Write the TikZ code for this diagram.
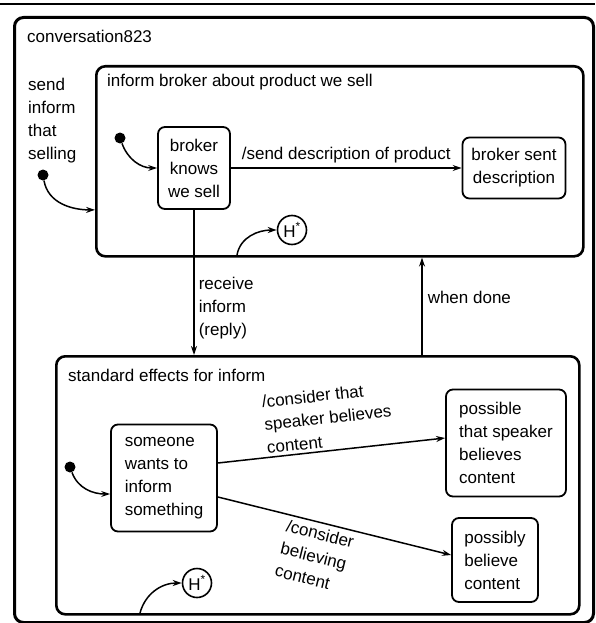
\documentclass[tikz,border=0pt]{standalone}
\usepackage{fontspec}
\setmainfont{Liberation Sans}
\usetikzlibrary{positioning, arrows.meta, calc}

\begin{document}
\begin{tikzpicture}[
    x=1pt, y=-1pt,
    every node/.style={font=\fontsize{17}{23}\selectfont},
    box/.style={draw, line width=2.6pt, rounded corners=9pt, anchor=north west, inner sep=0pt},
    st/.style={draw, line width=1.8pt, rounded corners=7pt, align=left, inner sep=0pt},
    init/.style={circle, fill, inner sep=0pt, minimum size=11pt},
    hist/.style={circle, draw, line width=1.6pt, inner sep=0pt, minimum size=29pt},
    tr/.style={-{Stealth[length=9pt,width=6pt]}, line width=1.5pt},
    lbl/.style={align=left, inner sep=0pt}
  ]
  \useasboundingbox (0,0) rectangle (595,623);
  \draw[line width=1.5pt] (0,4) -- (595,4);

  % containers
  \node[box, line width=3pt, minimum width=579pt, minimum height=605pt] (conv) at (13,16) {};
  \node[box, minimum width=487pt, minimum height=190pt] (ib) at (95,65) {};
  \node[box, minimum width=523pt, minimum height=258pt] (se) at (55,355) {};
  \node[lbl, anchor=west] (convt) at (27,36) {conversation823};
  \node[lbl, anchor=north west] (sendt) at (28,78) {send\\inform\\that\\selling};
  \node[lbl, anchor=west] (ibt) at (107,82) {inform broker about product we sell};
  \node[lbl, anchor=west] (set) at (68,375) {standard effects for inform};

  % states
  \node[st, align=center, minimum width=72pt, minimum height=82pt] (bk) at (194,168) {broker\\knows\\we sell};
  \node[st, align=center, minimum width=103pt, minimum height=61pt] (bs) at (514,168) {broker sent\\description};
  \node[st, minimum width=106pt, minimum height=107pt] (sw) at (164,478) {someone\\wants to\\inform\\something};
  \node[st, minimum width=120pt, minimum height=107pt] (ps) at (506,443) {possible\\that speaker\\believes\\content};
  \node[st, minimum width=86pt, minimum height=84pt] (pb) at (495,560) {possibly\\believe\\content};

  \node[init] (i0) at (43,175) {};
  \node[init] (i1) at (120,138) {};
  \node[init] (i2) at (70,467) {};
  \node[hist] (h1) at (292,230) {H\textsuperscript{*}};
  \node[hist] (h2) at (197,583) {H\textsuperscript{*}};
  \coordinate (wd) at (422,355);
  \coordinate (h1s) at (237,255);
  \coordinate (h2s) at (140,613);

  % transitions
  \draw[tr] (i0) to[out=-80, in=180] (ib.west |- bk.south);
  \draw[tr] (i1) to[out=-70, in=180] (bk.west);
  \draw[tr] (bk) -- node[lbl, above=4pt] (sendl) {/send description of product} (bs);
  \draw[tr] (bk.south) -- node[lbl, right=4pt, pos=0.68] (recl) {receive\\inform\\(reply)} (bk.south |- se.north);
  \draw[tr] (wd) -- node[lbl, right=5pt, pos=0.59] (wdl) {when done} (wd |- ib.south);
  \draw[tr] (h1s) to[out=80, in=180] (h1.west);
  \draw[tr] (i2) to[out=-70, in=180] ([yshift=-16pt]sw.west);
  \draw[tr] ([yshift=15pt]sw.east) -- node[lbl, sloped, above=3pt, midway] (c1l) {/consider that\\speaker believes\\content} ([yshift=5pt]ps.west);
  \draw[tr] ([yshift=-19pt]sw.east) -- node[lbl, sloped, below=4pt, pos=0.45] (c2l) {/consider\\believing\\content} ([yshift=5pt]pb.west);
  \draw[tr] (h2s) to[out=75, in=180] (h2.west);
\end{tikzpicture}
\end{document}
